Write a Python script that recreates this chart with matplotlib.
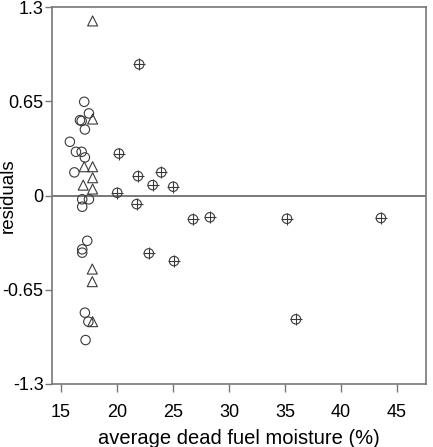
import matplotlib.pyplot as plt

plt.rcParams["font.family"] = ["Liberation Sans", "DejaVu Sans"]

# triangles (group near 17-18 %)
tri_x = [17.83, 17.83, 17.08, 17.83, 17.83, 16.99, 17.83, 17.8, 17.8, 17.83]
tri_y = [1.205, 0.528, 0.199, 0.199, 0.123, 0.072, 0.045, -0.507, -0.594, -0.87]

# open circles
circ_x = [17.08, 17.5, 16.7, 16.85, 17.14, 15.8, 16.34, 16.85, 17.14, 16.2,
          16.9, 17.5, 16.9, 17.35, 16.9, 16.9, 17.14, 17.45, 17.2]
circ_y = [0.647, 0.567, 0.52, 0.515, 0.456, 0.371, 0.302, 0.302, 0.263, 0.16,
          -0.026, -0.026, -0.077, -0.312, -0.371, -0.394, -0.808, -0.87, -0.997]

# crossed circles
cross_x = [20.18, 20.03, 21.99, 21.88, 23.19, 23.96, 25.03, 21.76, 22.85, 25.1,
           26.8, 28.3, 35.18, 35.98, 43.57]
cross_y = [0.29, 0.019, 0.905, 0.134, 0.072, 0.16, 0.061, -0.059, -0.399, -0.452,
           -0.164, -0.15, -0.16, -0.854, -0.155]

x_ticks = [15, 20, 25, 30, 35, 40, 45]
y_ticks = [-1.3, -0.65, 0, 0.65, 1.3]
y_tick_labels = ["-1.3", "-0.65", "0", "0.65", "1.3"]

edge = "#3a3a3a"
fig = plt.figure(figsize=(4.33, 4.47), dpi=100)
ax = fig.add_axes([0.120, 0.141, 0.864, 0.843])

ax.axhline(0, color="#555555", lw=1.1, zorder=1)

ax.scatter(circ_x, circ_y, s=46, marker="o", facecolors="none",
           edgecolors=edge, linewidths=0.8, zorder=3)
ax.scatter(tri_x, tri_y, s=52, marker="^", facecolors="none",
           edgecolors=edge, linewidths=0.8, zorder=3)
ax.scatter(cross_x, cross_y, s=46, marker="o", facecolors="none",
           edgecolors=edge, linewidths=0.8, zorder=3)
ax.scatter(cross_x, cross_y, s=72, marker="+", color=edge,
           linewidths=0.8, zorder=3)

ax.set_xlim(14.2, 47.6)
ax.set_ylim(-1.3, 1.3)
ax.set_xticks(x_ticks)
ax.set_yticks(y_ticks)
ax.set_yticklabels(y_tick_labels)

for side in ["left", "right", "top", "bottom"]:
    ax.spines[side].set_color("#777777")
    ax.spines[side].set_linewidth(1.2)

ax.tick_params(axis="x", direction="out", length=6, width=1, color="#777777",
               labelsize=13, pad=8.5)
ax.tick_params(axis="y", direction="out", length=5, width=1, color="#777777",
               labelsize=13, pad=1)

ax.set_xlabel("average dead fuel moisture (%)", fontsize=14.5, labelpad=6)
ax.set_ylabel("residuals", fontsize=13.5)
ax.yaxis.set_label_coords(-0.095, 0.5)

fig.savefig("out.png", dpi=100)
